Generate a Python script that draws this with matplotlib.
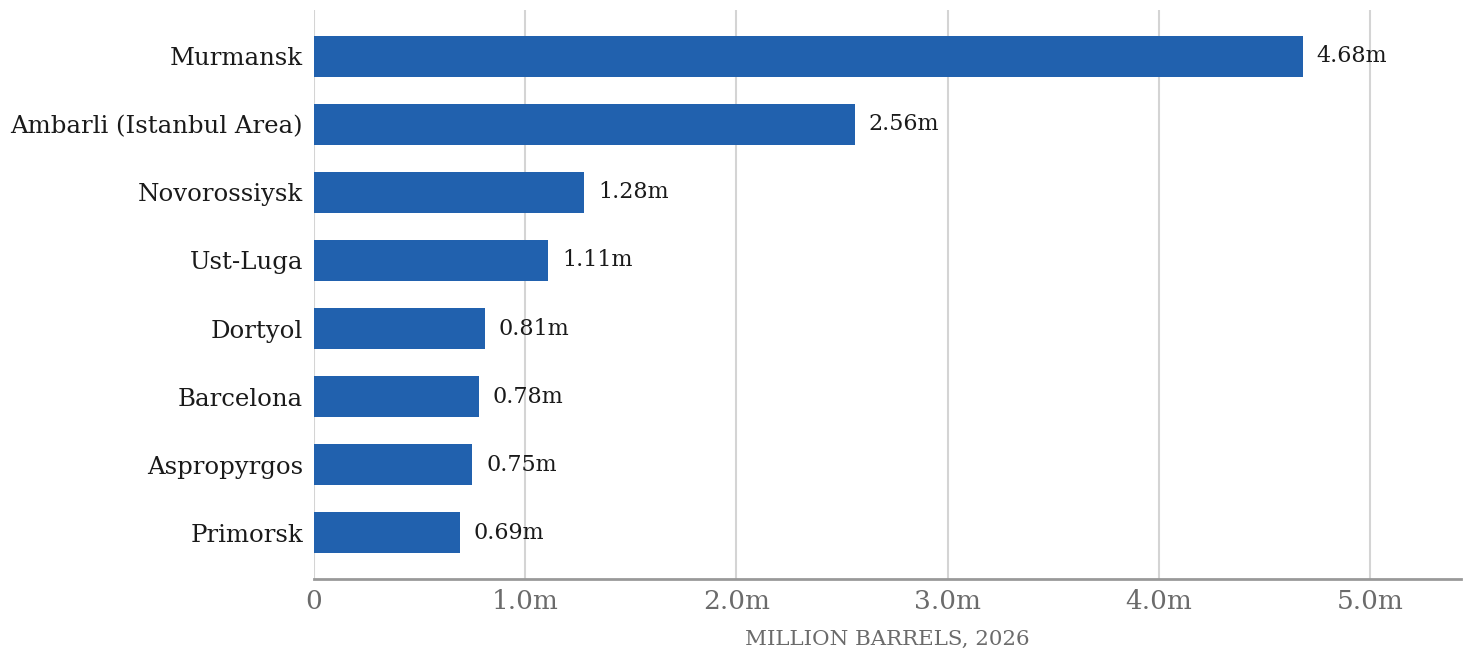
import matplotlib
matplotlib.use("Agg")
import matplotlib.pyplot as plt

ports = ["Murmansk", "Ambarli (Istanbul Area)", "Novorossiysk", "Ust-Luga",
         "Dortyol", "Barcelona", "Aspropyrgos", "Primorsk"]
values = [4.68, 2.56, 1.28, 1.11, 0.81, 0.78, 0.75, 0.69]
xticks = [0, 1, 2, 3, 4, 5]
xtick_labels = ["0", "1.0m", "2.0m", "3.0m", "4.0m", "5.0m"]
xlabel = "MILLION BARRELS, 2026"

plt.rcParams['font.family'] = ['DejaVu Serif']

fig = plt.figure(figsize=(14.7, 6.61), dpi=100)
ax = fig.add_axes([314/1470, 1 - 579/661, (1461-314)/1470, (579-10)/661])

ypos = list(range(len(ports)))
ax.barh(ypos, values, height=0.6, color="#2161ae", zorder=3)
ax.set_yticks(ypos)
ax.set_yticklabels(ports, fontsize=17.6, color="#1a1a1a")
ax.invert_yaxis()
ax.set_xlim(0, 5.43)
ax.set_xticks(xticks)
ax.set_xticklabels(xtick_labels, fontsize=19, color="#6b6b6b")
ax.set_xlabel(xlabel, fontsize=15.4, color="#6b6b6b", labelpad=12)

for y, v in zip(ypos, values):
    ax.text(v + 0.065, y, f"{v:.2f}m", va="center", ha="left", fontsize=16, color="#1a1a1a", zorder=4)

ax.grid(axis="x", color="#d4d4d4", linewidth=1.5, zorder=0)
ax.grid(axis="y", visible=False)
for s in ["top", "right", "left"]:
    ax.spines[s].set_visible(False)
ax.spines["bottom"].set_color("#999999")
ax.spines["bottom"].set_linewidth(2)
ax.tick_params(axis="both", length=0)
ax.tick_params(axis="y", pad=8)
ax.tick_params(axis="x", pad=7)

fig.savefig("out.png", dpi=100)
